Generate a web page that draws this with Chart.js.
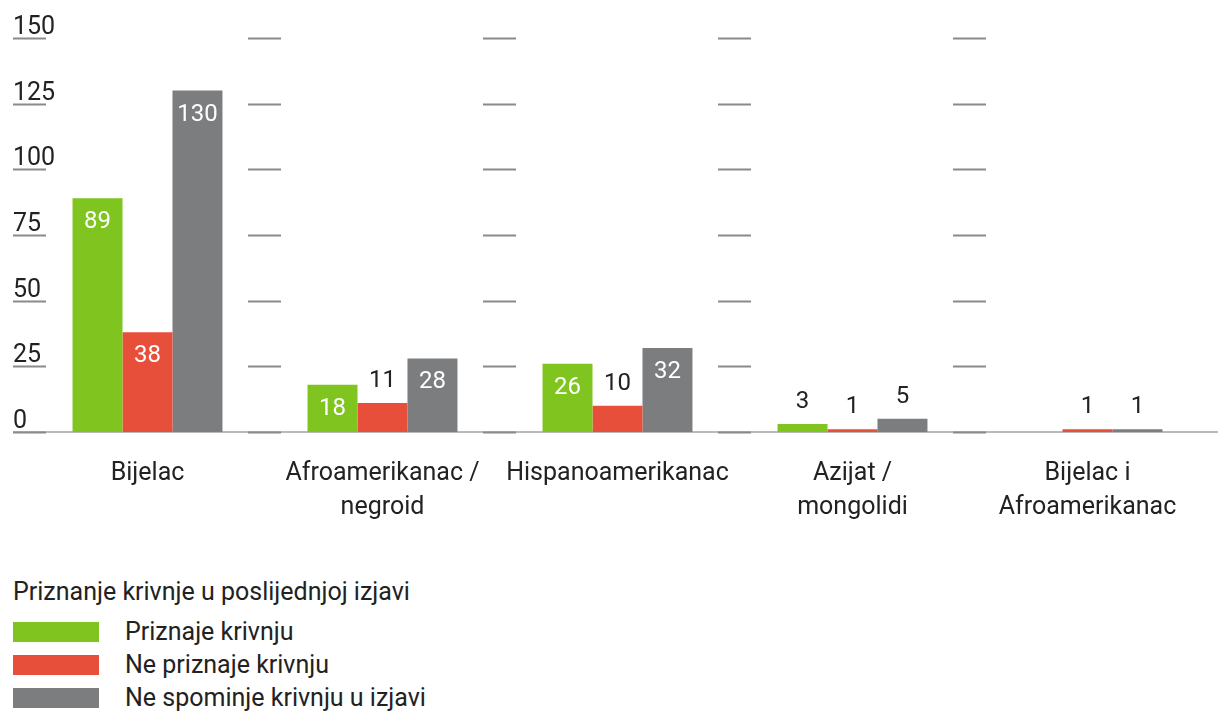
<!DOCTYPE html>
<html>
<head>
<meta charset="utf-8">
<script src="https://cdn.jsdelivr.net/npm/chart.js@4.4.1/dist/chart.umd.min.js"></script>
<style>
    body { margin: 0; background: #fff; }
    #wrap { position: relative; width: 1218px; height: 715px; font-family: Roboto, 'DejaVu Sans Condensed', sans-serif; color: #222; }
    #chartBox { position: absolute; left: 0; top: 0; width: 1218px; height: 560px; }
    #legend { position: absolute; left: 13px; top: 574px; font-size: 25px; }
    #legend .title { height: 41px; line-height: 36px; }
    #legend .item { display: flex; align-items: center; height: 33px; }
    #legend .swatch { width: 86px; height: 20px; margin-right: 26px; }
</style>
</head>
<body>
<div id="wrap">
    <div id="chartBox"><canvas id="chart"></canvas></div>
    <div id="legend"></div>
</div>
<script>
// Kategorije i vrijednosti
const categories = [
    ['Bijelac'],
    ['Afroamerikanac /', 'negroid'],
    ['Hispanoamerikanac'],
    ['Azijat /', 'mongolidi'],
    ['Bijelac i', 'Afroamerikanac']
];
const legendTitle = 'Priznanje krivnje u poslijednjoj izjavi';
const seriesNames = ['Priznaje krivnju', 'Ne priznaje krivnju', 'Ne spominje krivnju u izjavi'];
const priznaje = [89, 18, 26, 3, null];
const nePriznaje = [38, 11, 10, 1, 1];
const neSpominje = [130, 28, 32, 5, 1];
const yTicks = [0, 25, 50, 75, 100, 125, 150];
const colors = ['#7fc41f', '#e84f3a', '#7b7d7f'];

const FONT = "Roboto, 'DejaVu Sans Condensed', sans-serif";

// Kratke crtice mreže, oznake osi y i vrijednosti na stupcima
const decorPlugin = {
    id: 'decor',
    beforeDatasetsDraw(chart) {
        const { ctx, scales: { x, y } } = chart;
        const slot = x.width / categories.length;
        ctx.save();

        // osnovna linija
        ctx.strokeStyle = '#a3a3a3';
        ctx.lineWidth = 1.5;
        ctx.beginPath();
        ctx.moveTo(13, y.getPixelForValue(0));
        ctx.lineTo(chart.width, y.getPixelForValue(0));
        ctx.stroke();

        ctx.strokeStyle = '#8a8a8a';
        ctx.lineWidth = 2;
        ctx.font = '25px ' + FONT;
        ctx.fillStyle = '#222';
        ctx.textBaseline = 'alphabetic';
        ctx.textAlign = 'left';
        categories.forEach((c, i) => {
            const left = x.getPixelForValue(i) - slot / 2 - 17;
            yTicks.forEach(t => {
                const py = Math.round(y.getPixelForValue(t)) + 0.5;
                ctx.beginPath();
                ctx.moveTo(left, py);
                ctx.lineTo(left + 33, py);
                ctx.stroke();
                if (i === 0) ctx.fillText(String(t), left, py - 5);
            });
        });
        ctx.restore();
    },
    afterDatasetsDraw(chart) {
        const { ctx } = chart;
        ctx.save();
        ctx.font = '24px ' + FONT;
        ctx.textAlign = 'center';
        ctx.textBaseline = 'middle';
        chart.data.datasets.forEach((ds, di) => {
            const meta = chart.getDatasetMeta(di);
            meta.data.forEach((bar, i) => {
                const v = ds.data[i];
                if (v === null || v === undefined) return;
                if (v >= 15) {
                    ctx.fillStyle = '#fff';
                    ctx.fillText(String(v), bar.x, bar.y + 24);
                } else {
                    ctx.fillStyle = '#222';
                    ctx.fillText(String(v), bar.x, bar.y - 22);
                }
            });
        });
        ctx.restore();
    }
};

const seriesData = [priznaje, nePriznaje, neSpominje];

const chart = new Chart(document.getElementById('chart'), {
    type: 'bar',
    data: {
        labels: categories,
        datasets: seriesNames.map((name, i) => ({
            label: name,
            data: seriesData[i],
            backgroundColor: colors[i],
            borderWidth: 0,
            categoryPercentage: 0.638,
            barPercentage: 1
        }))
    },
    options: {
        responsive: true,
        maintainAspectRatio: false,
        animation: false,
        layout: { padding: { left: 30, right: 13, top: 38, bottom: 28 } },
        plugins: {
            legend: { display: false },
            tooltip: { enabled: false }
        },
        scales: {
            y: {
                display: false,
                min: 0,
                max: 150
            },
            x: {
                grid: { display: false },
                border: { display: false },
                ticks: {
                    color: '#222',
                    padding: 17,
                    maxRotation: 0,
                    autoSkip: false,
                    font: { family: FONT, size: 25, lineHeight: 1.35 }
                },
                afterFit(axis) { axis.height = 100; }
            }
        }
    },
    plugins: [decorPlugin]
});

// Legenda
const legend = document.getElementById('legend');
legend.innerHTML = `<div class="title">${legendTitle}</div>` +
    seriesNames.map((name, i) => `
        <div class="item"><span class="swatch" style="background:${colors[i]}"></span>${name}</div>
    `).join('');
</script>
</body>
</html>
